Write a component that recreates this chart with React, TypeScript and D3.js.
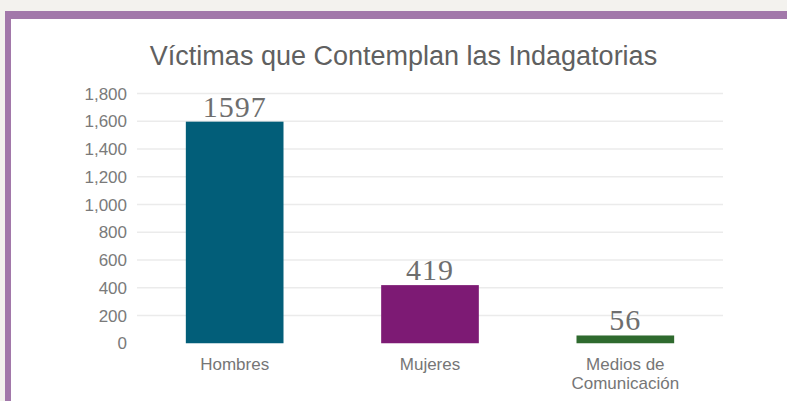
import { scaleBand, scaleLinear } from "d3";

const categories = ["Hombres", "Mujeres", "Medios de\nComunicación"];
const values = [1597, 419, 56];
const barColors = ["#025e79", "#7d1a74", "#2f6a2e"];
const yTicks = [0, 200, 400, 600, 800, 1000, 1200, 1400, 1600, 1800];
const title = "Víctimas que Contemplan las Indagatorias";

export default function App() {
  const width = 787;
  const height = 401;
  const left = 137;
  const right = 723;
  const top = 93.5;
  const bottom = 343.25;

  const x = scaleBand<string>()
    .domain(categories)
    .range([left, right])
    .paddingInner(0.5)
    .paddingOuter(0.25);
  const y = scaleLinear().domain([0, 1800]).range([bottom, top]);
  const fmt = (v: number) => v.toLocaleString("en-US");

  return (
    <svg
      width={width}
      height={height}
      viewBox={`0 0 ${width} ${height}`}
      style={{ position: "fixed", left: 0, top: 0 }}
    >
      <rect x={0} y={0} width={width} height={height} fill="#f3f2ee" />
      <rect x={5} y={11} width={width - 5} height={height - 11} fill="#a278aa" />
      <rect x={11} y={19} width={width - 11} height={height - 19} fill="#ffffff" />

      <text
        x={403.5}
        y={65}
        textAnchor="middle"
        fontFamily="Arial, 'Liberation Sans', sans-serif"
        fontSize={27}
        fill="#606060"
      >
        {title}
      </text>

      {yTicks.map((t) => (
        <g key={t}>
          {t > 0 && (
            <line x1={left} x2={right} y1={y(t)} y2={y(t)} stroke="#ebebeb" strokeWidth={1.5} />
          )}
          <text
            x={127}
            y={y(t)}
            dy="0.36em"
            textAnchor="end"
            fontFamily="Arial, 'Liberation Sans', sans-serif"
            fontSize={17}
            fill="#7a7a7a"
          >
            {fmt(t)}
          </text>
        </g>
      ))}

      {categories.map((c, i) => {
        const bx = x(c) ?? 0;
        const cx = bx + x.bandwidth() / 2;
        const lines = c.split("\n");
        return (
          <g key={c}>
            <rect
              x={bx}
              y={y(values[i])}
              width={x.bandwidth()}
              height={bottom - y(values[i])}
              fill={barColors[i]}
            />
            <text
              x={cx}
              y={y(values[i]) - 5}
              textAnchor="middle"
              fontFamily="'Liberation Serif', 'Times New Roman', serif"
              fontSize={30}
              letterSpacing={1}
              fill="#6e6e6e"
            >
              {values[i]}
            </text>
            {lines.map((ln, j) => (
              <text
                key={j}
                x={cx}
                y={370 + j * 19}
                textAnchor="middle"
                fontFamily="Arial, 'Liberation Sans', sans-serif"
                fontSize={17}
                fill="#767676"
              >
                {ln}
              </text>
            ))}
          </g>
        );
      })}
    </svg>
  );
}
